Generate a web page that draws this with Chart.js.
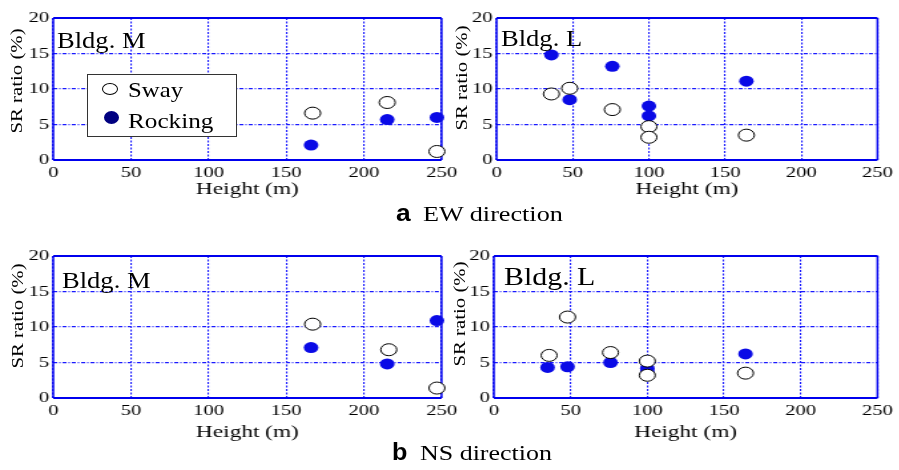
<!DOCTYPE html>
<html>
<head>
<meta charset="utf-8">
<script src="https://cdn.jsdelivr.net/npm/chart.js@4/dist/chart.umd.min.js"></script>
<style>
  html, body { margin:0; padding:0; background:#fff; }
  body { width:899px; height:470px; position:relative; overflow:hidden; font-family:"Liberation Serif","Times New Roman",serif; }
  .pane { position:absolute; transform-origin:0 0; }
  .txt { position:absolute; white-space:nowrap; line-height:1; color:#000; transform-origin:0 0; z-index:5; }
  .ytitle { position:absolute; white-space:nowrap; line-height:1; font-size:16px; color:#000; z-index:5;
            transform: translate(-50%,-50%) rotate(-90deg) scaleX(1.3); }
  .mk { position:absolute; box-sizing:border-box; border-radius:50%; z-index:6; }
</style>
</head>
<body>
<canvas id="cTL" class="pane"></canvas>
<canvas id="cTR" class="pane"></canvas>
<canvas id="cBL" class="pane"></canvas>
<canvas id="cBR" class="pane"></canvas>

<script>
// ---------------- data ----------------
const xTickValues = [0, 50, 100, 150, 200, 250];
const yTickValues = [0, 5, 10, 15, 20];

// (a) EW direction, Bldg. M
const ewMSwayHeight = [167, 215, 247];
const ewMSway       = [6.6, 8.1, 1.2];
const ewMRockHeight = [166, 215, 247];
const ewMRock       = [2.1, 5.7, 6.0];

// (a) EW direction, Bldg. L
const ewLSwayHeight = [36, 48, 76, 100, 100, 164];
const ewLSway       = [9.3, 10.1, 7.1, 4.7, 3.2, 3.5];
const ewLRockHeight = [36, 48, 76, 100, 100, 164];
const ewLRock       = [14.8, 8.5, 13.2, 7.6, 6.2, 11.1];

// (b) NS direction, Bldg. M
const nsMSwayHeight = [167, 216, 247];
const nsMSway       = [10.4, 6.8, 1.4];
const nsMRockHeight = [166, 215, 247];
const nsMRock       = [7.1, 4.8, 10.9];

// (b) NS direction, Bldg. L
const nsLSwayHeight = [36, 48, 76, 100, 100, 164];
const nsLSway       = [6.0, 11.4, 6.4, 5.2, 3.2, 3.5];
const nsLRockHeight = [35, 48, 76, 100, 100, 164];
const nsLRock       = [4.3, 4.4, 5.0, 4.2, 3.8, 6.2];

const seriesNames = ['Sway', 'Rocking'];

// ---------------- styling ----------------
const STRETCH = 1.33;
const GRID_BLUE = '#1a1aff';
const BOX_BLUE = '#0000ee';
const ROCK_BLUE = '#0a0ae6';

Chart.defaults.font.family = '"Liberation Serif","Times New Roman",serif';
Chart.defaults.color = '#000';

const boxPlugin = {
  id: 'boxPlugin',
  beforeDatasetsDraw(chart) {
    const a = chart.chartArea, ctx = chart.ctx;
    ctx.save();
    ctx.strokeStyle = BOX_BLUE;
    ctx.lineWidth = 2;
    ctx.beginPath();
    ctx.moveTo(a.left, a.top); ctx.lineTo(a.right, a.top);
    ctx.moveTo(a.left, a.bottom); ctx.lineTo(a.right, a.bottom);
    ctx.stroke();
    ctx.lineWidth = 1.5;
    ctx.beginPath();
    ctx.moveTo(a.left, a.top); ctx.lineTo(a.left, a.bottom);
    ctx.moveTo(a.right, a.top); ctx.lineTo(a.right, a.bottom);
    ctx.stroke();
    ctx.restore();
  }
};

function pts(xs, ys) { return xs.map((x, i) => ({ x: x, y: ys[i] })); }

function makePanel(id, left, top, W, H, yAxisW, xAxisH, padRight, sx, sy, rx, ry) {
  const cv = document.getElementById(id);
  cv.width = W; cv.height = H;
  cv.style.left = left + 'px';
  cv.style.top = top + 'px';
  cv.style.width = W + 'px';
  cv.style.height = H + 'px';
  cv.style.transform = 'scaleX(' + STRETCH + ')';
  new Chart(cv, {
    type: 'scatter',
    data: {
      datasets: [
        { label: seriesNames[0], data: pts(sx, sy), pointStyle: 'circle', pointRadius: 6,
          backgroundColor: '#ffffff', borderColor: '#000000', borderWidth: 1, clip: false },
        { label: seriesNames[1], data: pts(rx, ry), pointStyle: 'circle', pointRadius: 5.5,
          backgroundColor: ROCK_BLUE, borderColor: ROCK_BLUE, borderWidth: 0, clip: false }
      ]
    },
    options: {
      responsive: false,
      animation: false,
      devicePixelRatio: 1,
      events: [],
      layout: { padding: { top: 18, right: padRight, left: 0, bottom: 0 } },
      plugins: { legend: { display: false }, title: { display: false }, tooltip: { enabled: false } },
      scales: {
        x: {
          type: 'linear',
          min: xTickValues[0], max: xTickValues[xTickValues.length - 1],
          afterBuildTicks: (s) => { s.ticks = xTickValues.map(v => ({ value: v })); },
          afterFit: (s) => { s.height = xAxisH; },
          grid: { color: GRID_BLUE, lineWidth: 1.1, drawTicks: false, borderDash: [2, 1.5] },
          border: { display: false, dash: [2, 1.5] },
          ticks: { font: { size: 15.5 }, padding: 4, color: '#000', maxRotation: 0 },
          title: { display: true, text: 'Height (m)', font: { size: 17.5 }, color: '#000', padding: { top: 0, bottom: 0 } }
        },
        y: {
          type: 'linear',
          min: yTickValues[0], max: yTickValues[yTickValues.length - 1],
          afterBuildTicks: (s) => { s.ticks = yTickValues.map(v => ({ value: v })); },
          afterFit: (s) => { s.width = yAxisW; },
          grid: { color: GRID_BLUE, lineWidth: 1.2, drawTicks: false, borderDash: [3, 1.5, 1, 1.5] },
          border: { display: false, dash: [3, 1.5, 1, 1.5] },
          ticks: { font: { size: 15.5 }, padding: 3, color: '#000' },
          title: { display: false }
        }
      }
    },
    plugins: [boxPlugin]
  });
}

makePanel('cTL', 0,   0,   353, 200, 40, 40, 21, ewMSwayHeight, ewMSway, ewMRockHeight, ewMRock);
makePanel('cTR', 450, 0,   337, 200, 35, 40, 11, ewLSwayHeight, ewLSway, ewLRockHeight, ewLRock);
makePanel('cBL', 0,   238, 353, 205, 40, 45, 21, nsMSwayHeight, nsMSway, nsMRockHeight, nsMRock);
makePanel('cBR', 450, 238, 337, 205, 33, 45, 12, nsLSwayHeight, nsLSway, nsLRockHeight, nsLRock);

// ---------------- text overlays ----------------
function addText(str, left, baseline, size, opts) {
  opts = opts || {};
  const d = document.createElement('div');
  d.className = 'txt';
  d.textContent = str;
  const asc = opts.sans ? 0.8465 : 0.8375;
  d.style.left = left + 'px';
  d.style.top = (baseline - asc * size) + 'px';
  d.style.fontSize = size + 'px';
  if (opts.sans) d.style.fontFamily = '"Liberation Sans", Arial, sans-serif';
  if (opts.bold) d.style.fontWeight = 'bold';
  d.style.transform = 'scaleX(' + (opts.sx || 1) + ')';
  document.body.appendChild(d);
  return d;
}
function addYTitle(cx, cy) {
  const d = document.createElement('div');
  d.className = 'ytitle';
  d.textContent = 'SR ratio (%)';
  d.style.left = cx + 'px';
  d.style.top = cy + 'px';
  document.body.appendChild(d);
}

addYTitle(17, 81);
addYTitle(461.5, 78);
addYTitle(18, 316);
addYTitle(460, 314);

addText('Bldg. M', 57, 48.3, 23.5, { sx: 1.13 });
addText('Bldg. L', 501, 46.7, 23.5, { sx: 1.13 });
addText('Bldg. M', 62, 288.3, 23.5, { sx: 1.13 });
addText('Bldg. L', 504, 285.7, 26, { sx: 1.15 });

// legend box
const lg = document.createElement('div');
lg.style.cssText = 'position:absolute;left:87px;top:74px;width:150px;height:63px;box-sizing:border-box;border:1px solid #333;background:#fff;z-index:4;';
document.body.appendChild(lg);
const m1 = document.createElement('div');
m1.className = 'mk';
m1.style.cssText += 'left:102px;top:82.5px;width:16px;height:12px;border:1px solid #000;background:#fff;';
document.body.appendChild(m1);
const m2 = document.createElement('div');
m2.className = 'mk';
m2.style.cssText += 'left:103.5px;top:110.5px;width:15px;height:13px;background:#000080;';
document.body.appendChild(m2);
addText(seriesNames[0], 128, 97.3, 21, { sx: 1.18 });
addText(seriesNames[1], 128, 128.3, 21, { sx: 1.2 });

// captions
addText('a', 396, 221, 24, { sans: true, bold: true, sx: 1.1 });
addText('EW direction', 423, 221, 22, { sx: 1.19 });
addText('b', 392, 460, 24, { sans: true, bold: true, sx: 1.05 });
addText('NS direction', 420, 460, 22, { sx: 1.18 });
</script>
</body>
</html>
